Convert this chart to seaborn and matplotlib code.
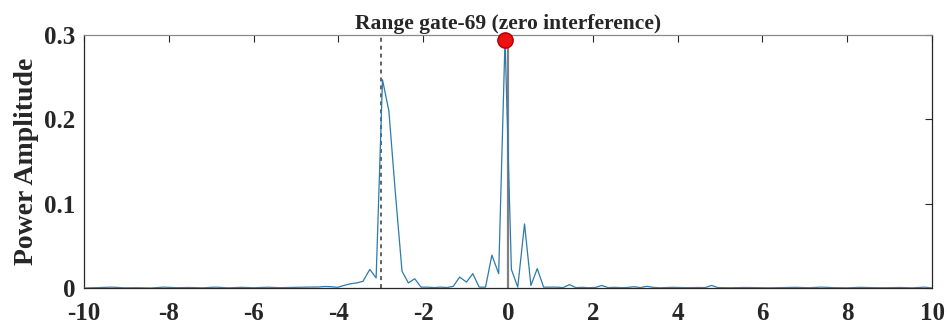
import matplotlib
matplotlib.use("Agg")
import matplotlib.pyplot as plt
import numpy as np
import pandas as pd
import seaborn as sns

# Doppler / frequency axis samples and their power amplitude
freq = [-10.0, -9.65, -9.34, -9.04, -8.73, -8.43, -8.12, -7.82, -7.51, -7.21, -6.90,
        -6.60, -6.29, -5.99, -5.68, -5.38, -5.07, -4.77, -4.46, -4.32, -4.17, -4.02,
        -3.87, -3.72, -3.57, -3.42, -3.26, -3.11, -2.96, -2.81, -2.66, -2.50, -2.35,
        -2.20, -2.05, -1.90, -1.74, -1.59, -1.44, -1.29, -1.14, -0.98, -0.83, -0.68,
        -0.53, -0.38, -0.22, -0.07, 0.08, 0.23, 0.39, 0.54, 0.69, 0.84, 0.99, 1.15,
        1.30, 1.45, 1.60, 1.75, 1.91, 2.06, 2.21, 2.36, 2.51, 2.67, 2.82, 2.97, 3.12,
        3.28, 3.43, 3.58, 3.89, 4.19, 4.50, 4.65, 4.80, 4.95, 5.26, 5.56, 5.87, 6.17,
        6.48, 6.78, 7.09, 7.39, 7.70, 8.00, 8.31, 8.61, 8.92, 9.22, 9.53, 9.83, 10.0]
power = [0.0, 0.0005, 0.001, 0.0002, 0.0003, 0.0, 0.001, 0.0004, 0.0006, 0.0002, 0.001,
         0.0002, 0.0008, 0.0003, 0.0009, 0.0004, 0.0007, 0.001, 0.0012, 0.0018, 0.0015, 0.0008,
         0.003, 0.005, 0.006, 0.008, 0.022, 0.012, 0.247, 0.210, 0.115, 0.020, 0.006,
         0.011, 0.001, 0.001, 0.0005, 0.001, 0.0005, 0.002, 0.013, 0.007, 0.017, 0.001,
         0.001, 0.039, 0.017, 0.295, 0.022, 0.001, 0.076, 0.003, 0.023, 0.001, 0.001, 0.001,
         0.0005, 0.004, 0.0005, 0.0008, 0.0003, 0.0006, 0.003, 0.0005, 0.0008, 0.0004, 0.0006, 0.0015, 0.0005,
         0.002, 0.0007, 0.0003, 0.0008, 0.0004, 0.0006, 0.0005, 0.003, 0.0005, 0.0003, 0.0006, 0.0004, 0.0002,
         0.0005, 0.0008, 0.0003, 0.001, 0.0004, 0.0002, 0.0008, 0.0004, 0.0003, 0.0006, 0.0002, 0.001, 0.0]

peak_freq = [-0.07]
peak_power = [0.294]
ref_freq = -3.0
center_freq = 0.0

x_ticks = [-10, -8, -6, -4, -2, 0, 2, 4, 6, 8, 10]
y_ticks = [0, 0.1, 0.2, 0.3]
y_tick_labels = ["0", "0.1", "0.2", "0.3"]

sns.set_style("white")
plt.rcParams['font.family'] = ['Liberation Serif', 'DejaVu Serif']
plt.rcParams['font.weight'] = 'bold'

df = pd.DataFrame({"freq": freq, "power": power})

fig = plt.figure(figsize=(9.48, 3.27), dpi=100)
ax = fig.add_axes([84 / 948, 1 - 288 / 327, (932 - 84) / 948, (288 - 35) / 327])

sns.lineplot(data=df, x="freq", y="power", ax=ax, color="#2b7bab", linewidth=0.9,
             estimator=None, zorder=3)
ax.axvline(ref_freq, color="#555555", linestyle=(0, (2.2, 2.2)), linewidth=1.3, zorder=2)
ax.axvline(center_freq, color="#808080", linewidth=1.6, zorder=2)
ax.plot(peak_freq, peak_power, 'o', color="#ee1111", markeredgecolor="#aa0000",
        markersize=11, zorder=5, clip_on=False)

ax.set_xlim(-10, 10)
ax.set_ylim(0, 0.3)
ax.set_xticks(x_ticks)
ax.set_xticklabels([str(t) for t in x_ticks])
ax.set_yticks(y_ticks)
ax.set_yticklabels(y_tick_labels)
ax.tick_params(axis='both', direction='in', top=True, right=True, length=5,
               width=0.8, color="#262626", labelsize=18)
ax.tick_params(axis='x', pad=10)
ax.tick_params(axis='y', pad=6)
for lab in ax.get_xticklabels() + ax.get_yticklabels():
    lab.set_fontweight('bold')
for s in ax.spines.values():
    s.set_color("#262626")
    s.set_linewidth(0.9)
ax.spines['top'].set_color("#8a8a8a")

ax.set_xlabel("")
ax.set_ylabel("Power Amplitude", fontsize=20, fontweight='bold', labelpad=4)
ax.set_title("Range gate-69 (zero interference)", fontsize=15.5, fontweight='bold', pad=4)

fig.savefig("out.png", dpi=100)
